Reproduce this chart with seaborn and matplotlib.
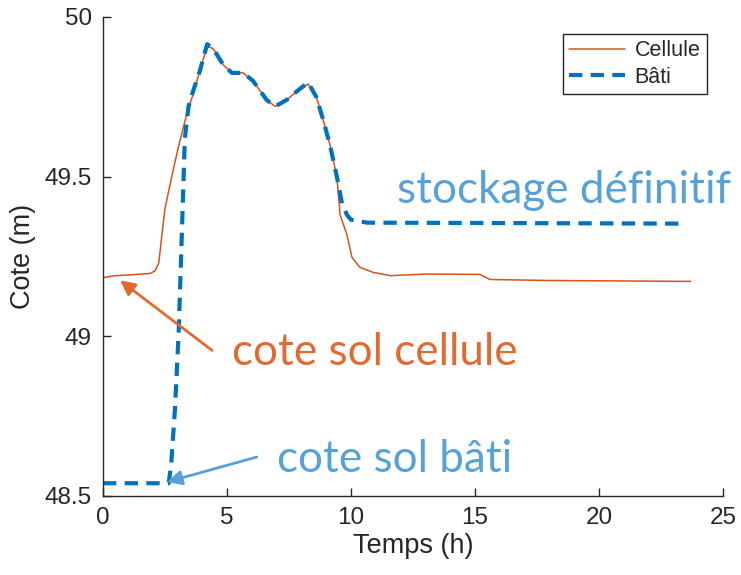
import matplotlib
matplotlib.use("Agg")
import matplotlib.pyplot as plt
import seaborn as sns
import pandas as pd

# --- data ---
t_cellule = [0, 0.5, 1.0, 1.9, 2.1, 2.25, 2.35, 2.5, 2.8, 3.03, 3.39, 3.6, 3.9, 4.2, 4.45,
             4.85, 5.2, 5.65, 6.05, 6.6, 6.94, 7.4, 7.86, 8.27, 8.6, 8.87, 9.15, 9.43,
             9.56, 9.83, 10.04, 10.36, 10.9, 11.6, 13.0, 15.2, 15.6, 17.9, 23.7]
v_cellule = [49.184, 49.19, 49.192, 49.197, 49.205, 49.23, 49.30, 49.40, 49.51, 49.59, 49.70,
             49.75, 49.83, 49.91, 49.90, 49.85, 49.825, 49.825, 49.80, 49.74, 49.72, 49.74,
             49.77, 49.79, 49.75, 49.68, 49.60, 49.50, 49.38, 49.32, 49.247, 49.216, 49.20,
             49.19, 49.195, 49.194, 49.178, 49.175, 49.172]

t_bati = [0, 2.65, 2.75, 2.9, 3.05, 3.15, 3.3, 3.45, 3.6, 3.9, 4.2, 4.45, 4.85, 5.2, 5.65,
          6.05, 6.6, 6.94, 7.4, 7.86, 8.27, 8.6, 8.87, 9.15, 9.43, 9.64, 9.84, 10.0, 10.65, 23.2]
v_bati = [48.54, 48.54, 48.6, 48.77, 49.01, 49.25, 49.62, 49.72, 49.76, 49.83, 49.915, 49.90,
          49.85, 49.825, 49.825, 49.80, 49.74, 49.72, 49.74, 49.77, 49.795, 49.75, 49.68,
          49.60, 49.50, 49.415, 49.38, 49.365, 49.356, 49.353]

series_labels = ["Cellule", "Bâti"]
x_ticks = [0, 5, 10, 15, 20, 25]
y_ticks = [48.5, 49, 49.5, 50]
y_tick_labels = ["48.5", "49", "49.5", "50"]

df_c = pd.DataFrame({"Temps": t_cellule, "Cote": v_cellule})
df_b = pd.DataFrame({"Temps": t_bati, "Cote": v_bati})

sns.set_theme(style="white")
plt.rcParams["font.family"] = ["Liberation Sans", "DejaVu Sans"]

ORANGE = "#D95319"
BLUE = "#0072BD"
TXT_OR = "#E2692F"
TXT_BL = "#56A2D8"
AX_COL = "#262626"

fig = plt.figure(figsize=(7.41, 5.75), dpi=100)
ax = fig.add_axes([103 / 741, 1 - 496 / 575, (723 - 103) / 741, (496 - 17) / 575])

sns.lineplot(data=df_c, x="Temps", y="Cote", ax=ax, color=ORANGE, linewidth=1.1,
             label=series_labels[0], sort=False)
sns.lineplot(data=df_b, x="Temps", y="Cote", ax=ax, color=BLUE, linewidth=3.0,
             linestyle=(0, (3.2, 2.0)), label=series_labels[1], sort=False)

ax.set_xlim(0, 25)
ax.set_ylim(48.5, 50)
ax.set_xticks(x_ticks)
ax.set_xticklabels([str(v) for v in x_ticks])
ax.set_yticks(y_ticks)
ax.set_yticklabels(y_tick_labels)
ax.set_xlabel("Temps (h)", fontsize=19.5, color=AX_COL, labelpad=3)
ax.set_ylabel("Cote (m)", fontsize=19.5, color=AX_COL, labelpad=6)
ax.tick_params(axis="both", direction="in", length=6, width=1, colors=AX_COL,
               labelsize=17.5, labelcolor=AX_COL, pad=8)
ax.tick_params(axis="x", top=False, bottom=True)
ax.tick_params(axis="y", left=True, right=False)
for s in ["top", "right"]:
    ax.spines[s].set_visible(False)
for s in ["left", "bottom"]:
    ax.spines[s].set_color(AX_COL)
    ax.spines[s].set_linewidth(1.0)

leg = ax.legend(loc="upper right", bbox_to_anchor=(707 / 741, 1 - 34 / 575),
                bbox_transform=fig.transFigure, borderaxespad=0, fontsize=15.5,
                frameon=True, fancybox=False, framealpha=1, edgecolor="#262626",
                handlelength=2.6, handletextpad=0.45, borderpad=0.3, labelspacing=0.25)
leg.get_frame().set_linewidth(1.0)

afont = ["Lato", "Open Sans", "DejaVu Sans"]
ax.text(11.85, 49.416, "stockage définitif", color=TXT_BL, fontsize=31.7, family=afont,
        va="baseline", ha="left")
ax.text(5.2, 48.909, "cote sol cellule", color=TXT_OR, fontsize=31.7, family=afont,
        va="baseline", ha="left")
ax.text(7.0, 48.575, "cote sol bâti", color=TXT_BL, fontsize=31.7, family=afont,
        va="baseline", ha="left")

ax.annotate("", xy=(0.69, 49.175), xytext=(4.4, 48.956),
            arrowprops=dict(arrowstyle="-|>", color=TXT_OR, lw=2, mutation_scale=22,
                            shrinkA=0, shrinkB=0))
ax.annotate("", xy=(2.58, 48.544), xytext=(6.2, 48.622),
            arrowprops=dict(arrowstyle="-|>", color=TXT_BL, lw=2, mutation_scale=22,
                            shrinkA=0, shrinkB=0))

fig.savefig("out.png", dpi=100)
